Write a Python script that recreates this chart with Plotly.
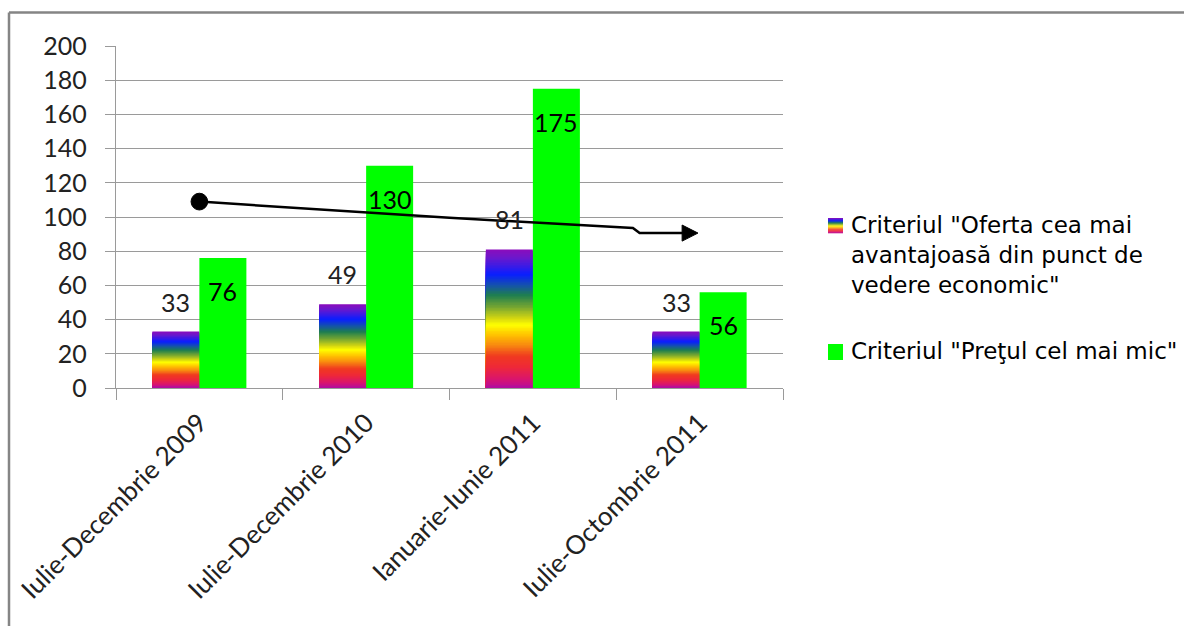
import numpy as np
import plotly.graph_objects as go

# ---- data ----
categories = ["Iulie-Decembrie 2009", "Iulie-Decembrie 2010",
              "Ianuarie-Iunie 2011", "Iulie-Octombrie 2011"]
oferta_values = [33, 49, 81, 33]
pret_values = [76, 130, 175, 56]
series_names = ['Criteriul "Oferta cea mai<br>avantajoasă din punct de<br>vedere economic"',
                'Criteriul "Preţul cel mai mic"']
y_tick_values = list(range(0, 201, 20))

# ---- layout geometry (pixels) ----
W, H = 1184, 626
L, R, T, B = 116, 783, 46, 388
PW, PH = R - L, B - T


def px(xpix):
    return (xpix - L) / PW


def py(ypix):
    return (B - ypix) / PH


BAR_W = 47 / (PW / len(categories))   # bar width in category units
TEXT = "#222222"
GRID = "#9a9a9a"
GREEN = "#00ff00"

# rainbow fill for the first series, listed from bar top to bar bottom
rainbow = [(0.00, "#8c0cbc"), (0.06, "#6c18cc"), (0.18, "#0a1eff"), (0.255, "#1450b0"),
           (0.33, "#1e7e50"), (0.42, "#7aa830"), (0.50, "#d8d810"), (0.545, "#ffff00"),
           (0.62, "#ffc000"), (0.69, "#f88a10"), (0.77, "#f03a20"), (0.85, "#ee2838"),
           (0.94, "#d81470"), (1.00, "#b00ca0")]


def hex_rgb(h):
    h = h.lstrip("#")
    return np.array([int(h[i:i + 2], 16) for i in (0, 2, 4)], dtype=float)


stops = np.array([s for s, _ in rainbow])
cols = np.array([hex_rgb(c) for _, c in rainbow])


def rainbow_at(f):
    rgb = [np.interp(f, stops, cols[:, k]) for k in range(3)]
    return "rgb(%d,%d,%d)" % tuple(int(round(v)) for v in rgb)


# each rainbow bar is built from nested bars of decreasing height,
# drawn tallest first so every band shows only its own slice
N = 90
xs, ys, cs = [], [], []
for i in range(N):
    c = rainbow_at((i + 0.5) / N)
    for cat, v in zip(categories, oferta_values):
        xs.append(cat)
        ys.append(v * (N - i) / N)
        cs.append(c)

fig = go.Figure()
fig.add_trace(go.Bar(
    x=xs, y=ys, offset=-BAR_W, width=BAR_W,
    marker=dict(color=cs, line=dict(width=0)),
    showlegend=False, hoverinfo="skip",
))
fig.add_trace(go.Bar(
    x=categories, y=pret_values, offset=0, width=BAR_W,
    marker=dict(color=GREEN, line=dict(width=0)),
    showlegend=False,
))

# value labels
annotations = []
for cat, v in zip(categories, oferta_values):
    annotations.append(dict(x=cat, y=v, xref="x", yref="y", text=str(v), showarrow=False,
                            xshift=-23.5, yshift=30,
                            font=dict(family="Lato", size=25, color=TEXT)))
for cat, v in zip(categories, pret_values):
    annotations.append(dict(x=cat, y=v, xref="x", yref="y", text=str(v), showarrow=False,
                            xshift=23.5, yshift=-33,
                            font=dict(family="Lato", size=25, color="#000")))

# legend
legend_font = dict(family="DejaVu Sans", size=23, color="#000")
annotations.append(dict(x=px(849), y=py(255), xref="paper", yref="paper", xanchor="left",
                        yanchor="middle", align="left", text=series_names[0], showarrow=False,
                        font=legend_font))
annotations.append(dict(x=px(849), y=py(351), xref="paper", yref="paper", xanchor="left",
                        yanchor="middle", align="left", text=series_names[1], showarrow=False,
                        font=legend_font))

shapes = []
# rainbow legend swatch
n_sw = 16
sw_top, sw_bot = 218, 233
for k in range(n_sw):
    y0 = sw_top + (sw_bot - sw_top) * k / n_sw
    y1 = sw_top + (sw_bot - sw_top) * (k + 1) / n_sw
    shapes.append(dict(type="rect", xref="paper", yref="paper",
                       x0=px(828), x1=px(843), y0=py(y1 + 0.3), y1=py(y0),
                       fillcolor=rainbow_at((k + 0.5) / n_sw), line=dict(width=0)))
shapes.append(dict(type="rect", xref="paper", yref="paper",
                   x0=px(828), x1=px(843), y0=py(360), y1=py(344),
                   fillcolor=GREEN, line=dict(width=0)))

# trend arrow
shapes.append(dict(type="path", xref="x", yref="y",
                   path="M 0,109 L 1.5,99.5 L 2.6,93.6 L 2.64,90.6 L 2.92,90.6",
                   line=dict(color="#000", width=2.5)))
shapes.append(dict(type="path", xref="x", yref="y",
                   path="M 2.99,90.6 L 2.895,95.3 L 2.895,85.9 Z",
                   fillcolor="#000", line=dict(color="#000", width=1)))
shapes.append(dict(type="circle", xref="x", yref="y",
                   x0=-0.05, x1=0.05, y0=109 - 4.9, y1=109 + 4.9,
                   fillcolor="#000", line=dict(color="#000", width=1)))

# outer frame
shapes.append(dict(type="line", xref="paper", yref="paper",
                   x0=px(9), x1=px(1190), y0=py(12.5), y1=py(12.5),
                   line=dict(color="#858585", width=2.5)))
shapes.append(dict(type="line", xref="paper", yref="paper",
                   x0=px(9), x1=px(9), y0=py(12.5), y1=py(640),
                   line=dict(color="#858585", width=2.5)))

fig.update_layout(
    width=W, height=H,
    margin=dict(l=L, r=W - R, t=T, b=H - B, pad=0, autoexpand=False),
    paper_bgcolor="white", plot_bgcolor="white",
    barmode="overlay",
    showlegend=False,
    annotations=annotations,
    shapes=shapes,
    xaxis=dict(
        type="category", categoryorder="array", categoryarray=categories,
        range=[-0.5, len(categories) - 0.5], automargin=False,
        tickson="boundaries", ticks="outside", ticklen=11, tickcolor=GRID, tickwidth=1.3,
        showline=True, linecolor=GRID, linewidth=1.3, showgrid=False,
        tickangle=-45, tickfont=dict(family="Lato", size=26, color=TEXT),
        ticklabelstandoff=8,
    ),
    yaxis=dict(
        range=[0, 200], tickvals=y_tick_values, automargin=False,
        ticks="outside", ticklen=10, tickcolor=GRID, tickwidth=1.3,
        showline=True, linecolor=GRID, linewidth=1.3,
        showgrid=True, gridcolor=GRID, gridwidth=1.3, zeroline=False,
        tickfont=dict(family="Lato", size=25, color=TEXT),
        ticklabelstandoff=13,
    ),
)

fig.write_html("out.html")
